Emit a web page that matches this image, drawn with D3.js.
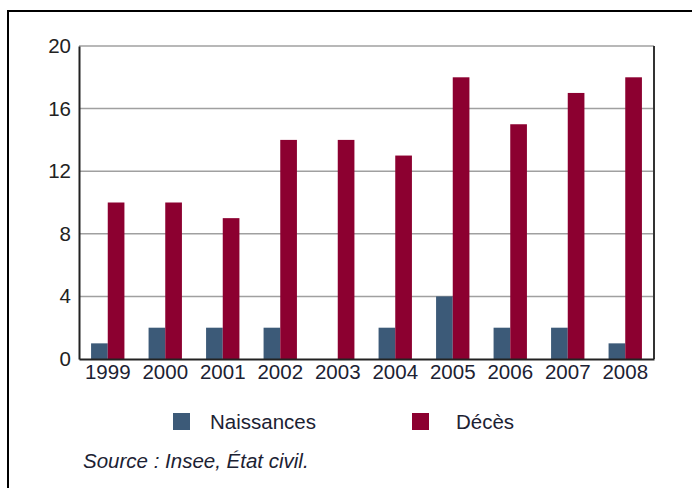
<!DOCTYPE html>
<html>
<head>
<meta charset="utf-8">
<script src="https://cdn.jsdelivr.net/npm/d3@7"></script>
<style>
  body { margin: 0; background: #fff; }
  text { font-family: "Liberation Sans", Arial, sans-serif; }
</style>
</head>
<body>
<div id="chart"></div>
<script>
// data
const years = ["1999", "2000", "2001", "2002", "2003", "2004", "2005", "2006", "2007", "2008"];
const naissances = [1, 2, 2, 2, 0, 2, 4, 2, 2, 1];
const deces = [10, 10, 9, 14, 14, 13, 18, 15, 17, 18];
const yTicks = [0, 4, 8, 12, 16, 20];
const seriesNames = ["Naissances", "Décès"];
const colors = ["#3c5a78", "#8c0030"];

const W = 692, H = 488;
const margin = { top: 46, right: 38, bottom: 129, left: 79 };
const width = W - margin.left - margin.right;
const height = H - margin.top - margin.bottom;

const svg = d3.select("#chart").append("svg")
    .attr("width", W)
    .attr("height", H);

// outer frame (runs off the right and bottom edges)
svg.append("rect")
    .attr("x", 8).attr("y", 11)
    .attr("width", W + 20).attr("height", H + 20)
    .style("fill", "none")
    .style("stroke", "#000")
    .style("stroke-width", 2);

const g = svg.append("g")
    .attr("transform", "translate(" + margin.left + "," + margin.top + ")");

const x = d3.scaleBand().domain(years).range([0, width]).paddingInner(0.42).paddingOuter(0.21);
const xs = d3.scaleBand().domain(seriesNames).range([0, x.bandwidth()]);
const y = d3.scaleLinear().domain([0, 20]).range([height, 0]);

// gridlines
g.selectAll(".grid")
    .data(yTicks.filter(d => d > 0))
    .enter().append("line")
    .attr("class", "grid")
    .attr("x1", 0).attr("x2", width)
    .attr("y1", d => y(d)).attr("y2", d => y(d))
    .style("stroke", "#a0a0a0")
    .style("stroke-width", 1.5);

// bars
const rows = years.map((yr, i) => ({ year: yr, values: [naissances[i], deces[i]] }));
const grp = g.selectAll(".year")
    .data(rows)
    .enter().append("g")
    .attr("transform", d => "translate(" + x(d.year) + ",0)");

grp.selectAll("rect")
    .data(d => d.values.map((v, k) => ({ key: seriesNames[k], v: v, k: k })))
    .enter().append("rect")
    .attr("x", d => xs(d.key))
    .attr("width", xs.bandwidth())
    .attr("y", d => y(d.v))
    .attr("height", d => y(0) - y(d.v))
    .style("fill", d => colors[d.k]);

// right border
g.append("line")
    .attr("x1", width).attr("x2", width)
    .attr("y1", 0).attr("y2", height)
    .style("stroke", "#333").style("stroke-width", 2);

// axes
const yAxis = d3.axisLeft(y).tickValues(yTicks).tickSize(0).tickPadding(8);
const yG = g.append("g").call(yAxis);
yG.select(".domain").style("stroke", "#222").style("stroke-width", 2);
yG.selectAll("text").style("font-size", "20.5px").style("fill", "#222");

const xAxis = d3.axisBottom(x).tickSize(0).tickPadding(5);
const xG = g.append("g").attr("transform", "translate(0," + height + ")").call(xAxis);
xG.select(".domain").style("stroke", "#222").style("stroke-width", 2);
xG.selectAll("text").style("font-size", "20.5px").style("fill", "#1c2233");

// legend
const legendX = [173, 412];
const leg = svg.selectAll(".legend")
    .data(seriesNames)
    .enter().append("g")
    .attr("transform", (d, i) => "translate(" + legendX[i] + ",413)");
leg.append("rect")
    .attr("width", 17).attr("height", 17)
    .style("fill", (d, i) => colors[i]);
leg.append("text")
    .attr("x", (d, i) => i === 0 ? 37 : 44)
    .attr("y", 16)
    .style("font-size", "20.5px")
    .style("fill", "#1c2233")
    .text(d => d);

// source
svg.append("text")
    .attr("x", 83).attr("y", 468)
    .style("font-size", "20.5px")
    .style("font-style", "italic")
    .style("fill", "#1c2233")
    .text("Source : Insee, État civil.");
</script>
</body>
</html>
